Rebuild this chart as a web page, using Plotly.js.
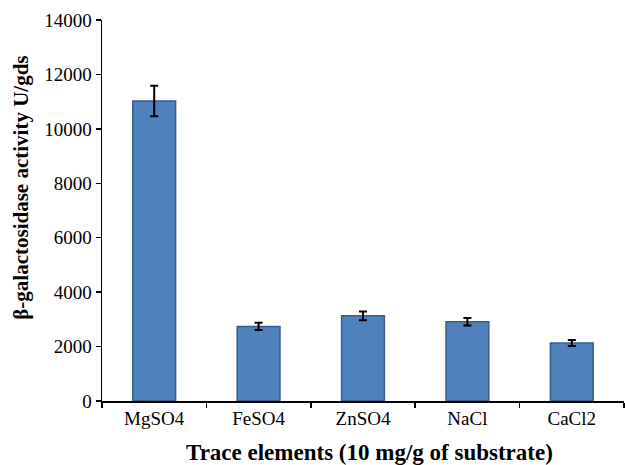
<!DOCTYPE html>
<html>
<head>
<meta charset="utf-8">
<script src="https://cdn.plot.ly/plotly-3.0.1.min.js"></script>
<style>
  html, body { margin: 0; padding: 0; background: #fff; }
  #chart { width: 625px; height: 465px; }
</style>
</head>
<body>
<div id="chart"></div>
<script>
// Enzyme activity for each trace element supplement
const categories = ["MgSO4", "FeSO4", "ZnSO4", "NaCl", "CaCl2"];
const activity = [11020, 2740, 3130, 2910, 2130];
const errorSD = [560, 135, 160, 140, 110];
const yTickValues = [0, 2000, 4000, 6000, 8000, 10000, 12000, 14000];
const xTitle = "Trace elements (10 mg/g of substrate)";
const yTitle = "β-galactosidase activity U/gds";

const serif = "'Liberation Serif', 'Times New Roman', serif";

const trace = {
  type: "bar",
  x: categories,
  y: activity,
  width: 0.41,
  marker: {
    color: "#4f81bd",
    line: { color: "#385d8a", width: 1.5 }
  },
  error_y: {
    type: "data",
    array: errorSD,
    visible: true,
    color: "#000000",
    thickness: 2,
    width: 4
  },
  hoverinfo: "skip"
};

const axisCommon = {
  ticks: "outside",
  ticklen: 5,
  tickwidth: 1.5,
  tickcolor: "#000",
  showline: true,
  linecolor: "#000",
  linewidth: 1.5,
  showgrid: false,
  zeroline: false,
  tickfont: { family: serif, size: 19, color: "#000" }
};

const layout = {
  width: 625,
  height: 465,
  margin: { l: 102, r: 1, t: 20, b: 64 },
  paper_bgcolor: "#ffffff",
  plot_bgcolor: "#ffffff",
  showlegend: false,
  font: { family: serif, color: "#000000", size: 19 },
  xaxis: Object.assign({}, axisCommon, {
    type: "category",
    tickson: "boundaries"
  }),
  yaxis: Object.assign({}, axisCommon, {
    range: [0, 14000],
    tickvals: yTickValues,
    ticktext: yTickValues.map(String)
  }),
  // Axis titles placed as annotations so they sit where the layout wants them
  annotations: [
    {
      text: "<b>" + xTitle + "</b>",
      xref: "paper", yref: "paper",
      x: 0.513, y: -0.134,
      xanchor: "center", yanchor: "middle",
      showarrow: false,
      font: { family: serif, size: 23, color: "#000" }
    },
    {
      text: "<b>" + yTitle + "</b>",
      xref: "paper", yref: "paper",
      x: -0.155, y: 0.56,
      xanchor: "center", yanchor: "middle",
      textangle: -90,
      showarrow: false,
      font: { family: serif, size: 21, color: "#000" }
    }
  ]
};

Plotly.newPlot("chart", [trace], layout, { staticPlot: true, displayModeBar: false });
</script>
</body>
</html>
